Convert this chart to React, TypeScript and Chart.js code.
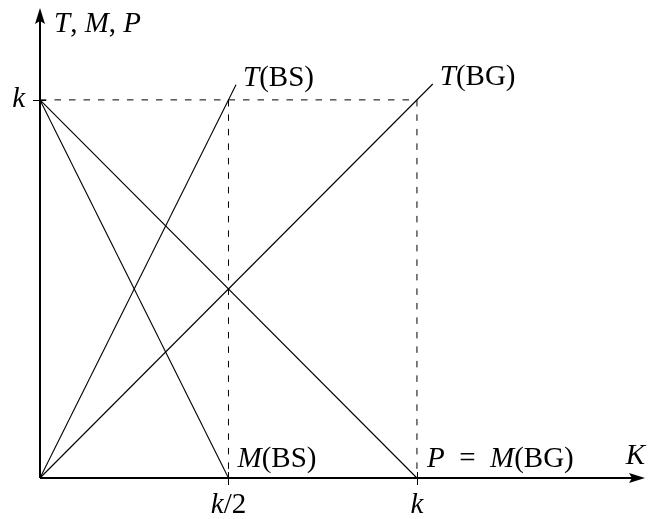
import React, { useEffect, useRef } from "react";
import { Chart, registerables } from "chart.js";

Chart.register(...registerables);

// ---- data (k = 1) ----
const xAxisMax = 1.605;
const yAxisMax = 1.243;

const tBSx = [0, 0.52];
const tBSy = [0, 1.04];
const tBGx = [0, 1.042];
const tBGy = [0, 1.042];
const mBSx = [0, 0.5];
const mBSy = [1, 0];
const pMBGx = [0, 1];
const pMBGy = [1, 0];

const guideHx = [0, 1];
const guideHy = [1, 1];
const guideV1x = [0.5, 0.5];
const guideV1y = [1, 0];
const guideV2x = [1, 1];
const guideV2y = [1, 0];

const xTickValues = [0.5, 1];
const xTickLabels = ["*k*/2", "*k*"];
const yTickValues = [1];
const yTickLabels = ["*k*"];

const xAxisTitle = "*K*";
const yAxisTitle = "*T*, *M*, *P*";

const curveLabelTexts = ["*T*(BS)", "*T*(BG)", "*M*(BS)", "*P*\u2002=\u2002*M*(BG)"];
const curveLabelX = [0.52, 1.042, 0.5, 1];
const curveLabelY = [1.04, 1.042, 0, 0];
const curveLabelDx = [7, 7, 9, 10];
const curveLabelDy = [1, 1, -11, -11];

const FONT_FAMILY = '"Liberation Serif", "DejaVu Serif", serif';
const FONT_SIZE = 29;

function zip(xs: number[], ys: number[]) {
  return xs.map((x, i) => ({ x, y: ys[i] }));
}

function parseRich(s: string) {
  const parts: { text: string; italic: boolean }[] = [];
  const re = /\*([^*]+)\*|([^*]+)/g;
  let m: RegExpExecArray | null;
  while ((m = re.exec(s))) {
    if (m[1] !== undefined) parts.push({ text: m[1], italic: true });
    else parts.push({ text: m[2], italic: false });
  }
  return parts;
}

function richWidth(ctx: CanvasRenderingContext2D, s: string) {
  let w = 0;
  for (const p of parseRich(s)) {
    ctx.font = `${p.italic ? "italic " : ""}${FONT_SIZE}px ${FONT_FAMILY}`;
    w += ctx.measureText(p.text).width;
  }
  return w;
}

function drawRich(
  ctx: CanvasRenderingContext2D,
  s: string,
  x: number,
  y: number,
  align: "left" | "center" | "right"
) {
  const w = richWidth(ctx, s);
  let cx = align === "left" ? x : align === "center" ? x - w / 2 : x - w;
  ctx.textAlign = "left";
  ctx.textBaseline = "alphabetic";
  ctx.fillStyle = "#000";
  for (const p of parseRich(s)) {
    ctx.font = `${p.italic ? "italic " : ""}${FONT_SIZE}px ${FONT_FAMILY}`;
    ctx.fillText(p.text, cx, y);
    cx += ctx.measureText(p.text).width;
  }
}

function arrowHead(
  ctx: CanvasRenderingContext2D,
  tipX: number,
  tipY: number,
  dirX: number,
  dirY: number
) {
  const len = 16;
  const half = 5;
  const nx = -dirY;
  const ny = dirX;
  const bx = tipX - dirX * len;
  const by = tipY - dirY * len;
  const cx = tipX - dirX * (len - 3);
  const cy = tipY - dirY * (len - 3);
  ctx.beginPath();
  ctx.moveTo(tipX, tipY);
  ctx.lineTo(bx + nx * half, by + ny * half);
  ctx.lineTo(cx, cy);
  ctx.lineTo(bx - nx * half, by - ny * half);
  ctx.closePath();
  ctx.fillStyle = "#000";
  ctx.fill();
}

const decorPlugin = {
  id: "decor",
  afterDatasetsDraw(chart: any) {
    const ctx: CanvasRenderingContext2D = chart.ctx;
    const xs = chart.scales.x;
    const ys = chart.scales.y;
    const x0 = xs.getPixelForValue(0);
    const y0 = ys.getPixelForValue(0);
    const xEnd = xs.getPixelForValue(xAxisMax);
    const yEnd = ys.getPixelForValue(yAxisMax);
    ctx.save();

    ctx.strokeStyle = "#000";
    ctx.lineWidth = 2;
    ctx.setLineDash([]);
    ctx.beginPath();
    ctx.moveTo(x0, y0);
    ctx.lineTo(xEnd - 10, y0);
    ctx.moveTo(x0, y0);
    ctx.lineTo(x0, yEnd + 10);
    ctx.stroke();
    arrowHead(ctx, xEnd, y0, 1, 0);
    arrowHead(ctx, x0, yEnd, 0, -1);

    ctx.lineWidth = 1;
    ctx.beginPath();
    xTickValues.forEach((v) => {
      const px = Math.round(xs.getPixelForValue(v)) + 0.5;
      ctx.moveTo(px, y0 - 6);
      ctx.lineTo(px, y0 + 7);
    });
    yTickValues.forEach((v) => {
      const py = Math.round(ys.getPixelForValue(v)) + 0.5;
      ctx.moveTo(x0 - 7, py);
      ctx.lineTo(x0 + 6, py);
    });
    ctx.stroke();

    xTickValues.forEach((v, i) => {
      drawRich(ctx, xTickLabels[i], xs.getPixelForValue(v), y0 + 35, "center");
    });
    yTickValues.forEach((v, i) => {
      drawRich(ctx, yTickLabels[i], x0 - 15, ys.getPixelForValue(v) + 7, "right");
    });

    drawRich(ctx, xAxisTitle, xEnd, y0 - 14, "right");
    drawRich(ctx, yAxisTitle, x0 + 14, yEnd + 24, "left");

    curveLabelTexts.forEach((t, i) => {
      const px = xs.getPixelForValue(curveLabelX[i]) + curveLabelDx[i];
      const py = ys.getPixelForValue(curveLabelY[i]) + curveLabelDy[i];
      drawRich(ctx, t, px, py, "left");
    });

    ctx.restore();
  },
};

export default function App() {
  const canvasRef = useRef<HTMLCanvasElement | null>(null);

  useEffect(() => {
    const canvas = canvasRef.current;
    if (!canvas) return;
    const solid = {
      showLine: true,
      borderColor: "#000",
      borderWidth: 1.1,
      pointRadius: 0,
      fill: false,
      clip: false as any,
    };
    const dashed = { ...solid, borderWidth: 1, borderDash: [6.5, 8] };
    const chart = new Chart(canvas, {
      type: "scatter",
      data: {
        datasets: [
          { ...dashed, label: "guide-h", data: zip(guideHx, guideHy) },
          { ...dashed, label: "guide-v1", data: zip(guideV1x, guideV1y) },
          { ...dashed, label: "guide-v2", data: zip(guideV2x, guideV2y) },
          { ...solid, label: "T(BS)", data: zip(tBSx, tBSy) },
          { ...solid, label: "T(BG)", data: zip(tBGx, tBGy) },
          { ...solid, label: "M(BS)", data: zip(mBSx, mBSy) },
          { ...solid, label: "P = M(BG)", data: zip(pMBGx, pMBGy) },
        ],
      },
      options: {
        responsive: false,
        animation: false,
        devicePixelRatio: 1,
        layout: { padding: { left: 40, right: 11, top: 8, bottom: 41 } },
        plugins: {
          legend: { display: false },
          tooltip: { enabled: false },
        },
        scales: {
          x: { type: "linear", min: 0, max: xAxisMax, display: false },
          y: { type: "linear", min: 0, max: yAxisMax, display: false },
        },
      },
      plugins: [decorPlugin],
    });
    return () => chart.destroy();
  }, []);

  return (
    <div style={{ position: "fixed", left: 0, top: 0, width: 656, height: 519, background: "#fff" }}>
      <canvas ref={canvasRef} width={656} height={519} style={{ display: "block" }} />
    </div>
  );
}
